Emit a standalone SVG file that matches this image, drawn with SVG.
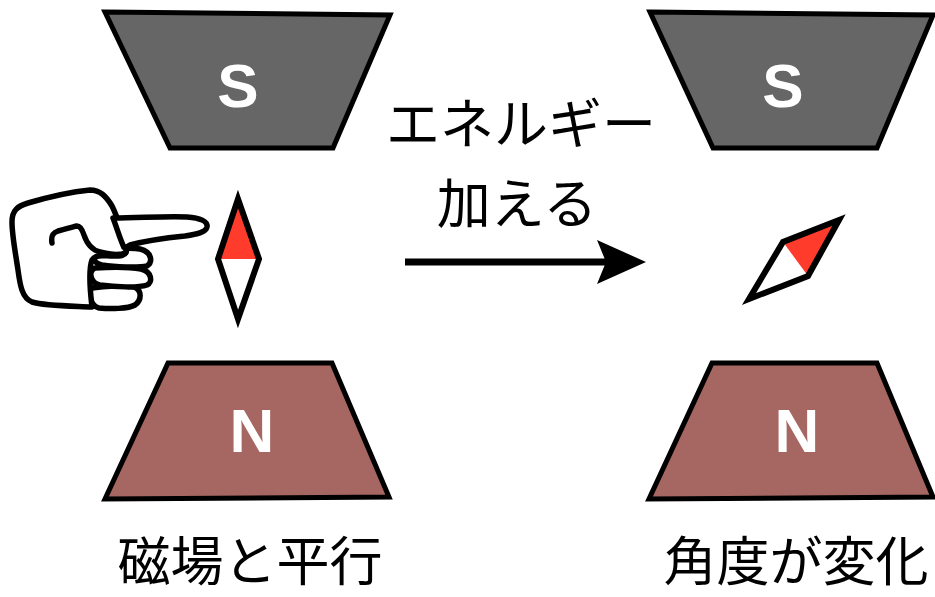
<svg xmlns="http://www.w3.org/2000/svg" width="935" height="597" viewBox="0 0 935 597">
  <style>
    .magS { fill: #666666; stroke: #000; stroke-width: 5; stroke-linejoin: miter; }
    .magN { fill: #a66661; stroke: #000; stroke-width: 5; stroke-linejoin: miter; }
    .pole { font-family: "Liberation Sans", Arial, sans-serif; font-weight: bold; font-size: 62px; fill: #fff; text-anchor: middle; }
    .label { font-family: "Noto Sans CJK JP", "Noto Sans", sans-serif; font-size: 54px; fill: #000; text-anchor: middle; }
    .caption { font-size: 53px; }
    .outline { fill: none; stroke: #000; stroke-width: 6; stroke-linejoin: miter; }
    .red { fill: #ff3b2b; }
    .hand { fill: #fff; stroke: #000; stroke-width: 5.5; stroke-linecap: round; stroke-linejoin: round; }
  </style>

  <!-- left pair of magnets -->
  <g id="magnet-s-left">
    <polygon class="magS" points="105,12 390,15 333,148 170,148"/>
    <text class="pole" x="238" y="107">S</text>
  </g>
  <g id="magnet-n-left">
    <polygon class="magN" points="168,363 332,363 389,497 105,499"/>
    <text class="pole" x="252" y="452">N</text>
  </g>

  <!-- right pair of magnets -->
  <g id="magnet-s-right">
    <polygon class="magS" points="650,12 933,15 877,148 713,148"/>
    <text class="pole" x="783" y="107">S</text>
  </g>
  <g id="magnet-n-right">
    <polygon class="magN" points="712,363 877,363 933,497 649,499"/>
    <text class="pole" x="797" y="452">N</text>
  </g>

  <!-- compass needle aligned with the field -->
  <g id="needle-left">
    <polygon class="red" points="238,199 218,259 259,259"/>
    <polygon class="outline" points="238,199 218,259 238,319 259,259"/>
  </g>

  <!-- compass needle turned by the energy -->
  <g id="needle-right">
    <polygon class="red" points="839,220 783,242 808,276"/>
    <polygon class="outline" points="839,220 783,242 749,299 808,276"/>
  </g>

  <!-- pointing hand -->
  <g id="hand">
    <!-- lower fingers -->
    <path class="hand" d="M92,288 C105,286 125,285 134,287 C142,290 142,300 135,305 C128,309 110,309 99,308 C90,306 88,292 92,288 Z"/>
    <path class="hand" d="M95,268 C110,267 130,267 141,269 C152,272 153,282 147,285 C138,288 115,287 100,285 C90,283 88,271 95,268 Z"/>
    <path class="hand" d="M98,250 C112,249 130,247 140,249 C152,252 153,262 147,266 C138,268 115,267 102,265 C92,263 90,253 98,250 Z"/>
    <!-- palm and back of the hand -->
    <path class="hand" d="M92,307 C70,306 45,306 32,302 C22,298 20,285 18,270 C15,250 12,235 12,222 C12,210 18,206 28,203 C45,198 70,192 90,190 C100,190 106,196 112,206 C118,218 124,238 126,250 C127,256 120,256 112,256 C104,256 96,254 92,260 C88,270 90,290 92,307 Z"/>
    <!-- index finger -->
    <path class="hand" d="M113,218 C140,218 165,216 187,217 C200,218 208,221 207,227 C206,232 198,234 185,236 C165,238 145,241 130,245 C125,247 124,250 126,252 C120,240 117,228 113,218 Z"/>
    <!-- thumb -->
    <path class="hand" d="M52,243 C51,237 52,233 58,231 C66,229 72,227 77,226 C80,226 82,229 84,235 C87,244 92,250 100,252 C108,254 116,255 122,254 C126,253 127,251 126,250"/>
  </g>

  <!-- transition arrow -->
  <g id="connectors">
    <line x1="405" y1="262" x2="610" y2="262" stroke="#000" stroke-width="7"/>
    <polygon points="646,262 597,240 606,262 597,284" fill="#000"/>
  </g>

  <!-- captions -->
  <g id="caption-energy">
    <text class="label" x="521" y="144">エネルギー</text>
    <text class="label" x="517" y="224">加える</text>
  </g>
  <g id="caption-left">
    <text class="label caption" x="250" y="581">磁場と平行</text>
  </g>
  <g id="caption-right">
    <text class="label caption" x="796" y="581">角度が変化</text>
  </g>
</svg>
